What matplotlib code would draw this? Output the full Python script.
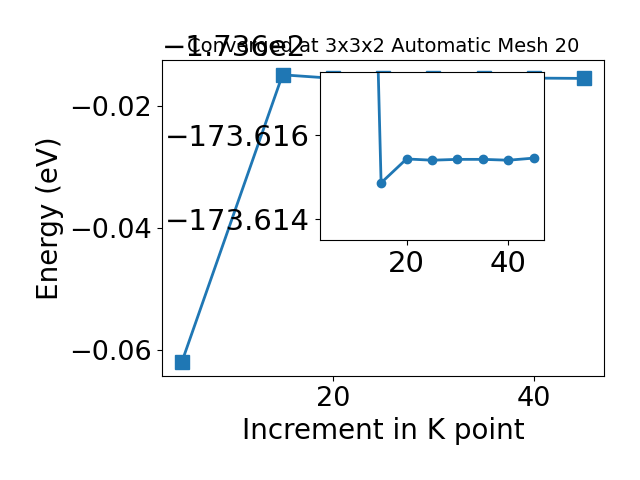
import numpy as np
import matplotlib
matplotlib.use("Agg")
import matplotlib.pyplot as plt

# K point mesh vs total energy
kpoints = [5, 15, 20, 25, 30, 35, 40, 45]
energy = [-173.66194, -173.61486, -173.61543, -173.61540,
          -173.61542, -173.61542, -173.61540, -173.61545]
main_xticks = [20, 40]
inset_yticks = [-173.616, -173.614]

plt.rcParams['font.size'] = 20

fig = plt.figure(figsize=(6.4, 4.8), dpi=100)
ax = fig.add_subplot(1, 1, 1)
fig.subplots_adjust(left=0.253, right=0.944, bottom=0.217, top=0.874)

ax.plot(kpoints, energy, marker='s', markersize=10, linewidth=2)
ax.set_xticks(main_xticks)
ax.tick_params(labelsize=19.5)
ax.yaxis.get_offset_text().set_fontsize(21)
ax.set_xlabel("Increment in K point")
ax.set_ylabel("Energy (eV)")
ax.set_title("Converged at 3x3x2 Automatic Mesh 20", fontsize=14, y=1.0)

# zoomed inset
axin = fig.add_axes([0.5, 0.5, 0.35, 0.35])
axin.plot(kpoints, energy, marker='o', markersize=6, linewidth=2)
axin.set_ylim(-173.6135, -173.6175)
axin.set_yticks(inset_yticks)
axin.ticklabel_format(axis='y', useOffset=False)
axin.tick_params(labelsize=21)

fig.savefig("out.png")
